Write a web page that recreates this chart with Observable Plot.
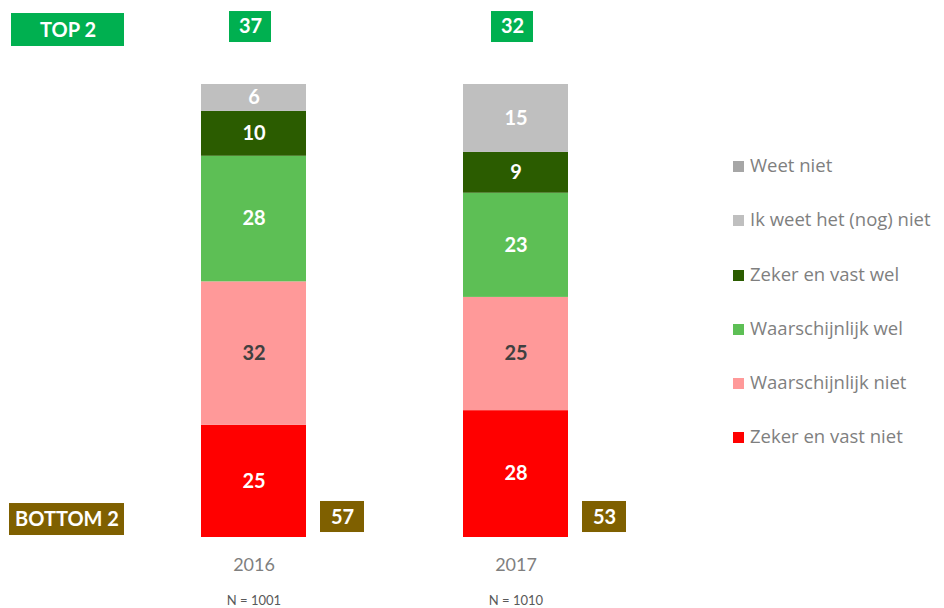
<!DOCTYPE html>
<html>
<head>
<meta charset="utf-8">
<script src="https://cdn.jsdelivr.net/npm/d3@7"></script>
<script src="https://cdn.jsdelivr.net/npm/@observablehq/plot@0.6"></script>
<style>
  body { margin: 0; background: #fff; font-family: Lato, "Open Sans", sans-serif; }
  #wrap { position: relative; width: 944px; height: 608px; }
  #legend { position: absolute; left: 733px; top: 151px; font-family: "Open Sans", Lato, sans-serif; }
  .item { height: 54.3px; display: flex; align-items: flex-start; font-size: 18.5px; color: #7f7f7f; line-height: 28px; white-space: nowrap; }
  .sw { width: 11px; height: 11px; margin-right: 6px; margin-top: 10px; flex: none; }
</style>
</head>
<body>
<div id="wrap"></div>
<script>
// Data
const years = ["2016", "2017"];
const sampleSizes = ["N = 1001", "N = 1010"];
const categories = ["Zeker en vast niet", "Waarschijnlijk niet", "Waarschijnlijk wel", "Zeker en vast wel", "Ik weet het (nog) niet", "Weet niet"];
const colors = ["#ff0000", "#ff9999", "#5dbf55", "#2b5c00", "#bfbfbf", "#a6a6a6"];
const values2016 = [25, 32, 28, 10, 6, 0];
const values2017 = [28, 25, 23, 9, 15, 0];
const top2 = [37, 32];
const bottom2 = [57, 53];
const legendOrder = ["Weet niet", "Ik weet het (nog) niet", "Zeker en vast wel", "Waarschijnlijk wel", "Waarschijnlijk niet", "Zeker en vast niet"];

const rows = [];
[values2016, values2017].forEach((vals, i) => {
  categories.forEach((c, j) => rows.push({year: years[i], cat: c, value: vals[j]}));
});
const summary = years.map((y, i) => ({year: y, top: top2[i], bottom: bottom2[i], n: sampleSizes[i]}));

const font = "Lato, 'Open Sans', sans-serif";
const stackOpts = (extra) => Plot.stackY({x: "year", y: "value", z: "cat", order: null, offset: "normalize", ...extra});

const chart = Plot.plot({
  width: 944,
  height: 608,
  marginLeft: 122,
  marginRight: 297,
  marginTop: 84,
  marginBottom: 71,
  style: {fontFamily: font, background: "white"},
  x: {domain: years, type: "band", paddingInner: 0.6, paddingOuter: 0.3, axis: null},
  y: {domain: [0, 1], axis: null},
  color: {domain: categories, range: colors},
  marks: [
    Plot.barY(rows, stackOpts({fill: "cat"})),
    Plot.text(rows, stackOpts({text: d => (d.cat === "Waarschijnlijk niet" || d.value === 0) ? null : String(d.value), fill: "white", fontWeight: "bold", fontSize: 20})),
    Plot.text(rows, stackOpts({text: d => d.cat === "Waarschijnlijk niet" ? String(d.value) : null, fill: "#404040", fontWeight: "bold", fontSize: 20})),
    // TOP 2 boxes
    Plot.barY(summary, {x: "year", y1: 1.0927, y2: 1.1611, fill: "#00b050", insetLeft: 28, insetRight: 35}),
    Plot.text(summary, {x: "year", y: 1.127, text: d => String(d.top), dx: -3.5, fill: "white", fontWeight: "bold", fontSize: 20}),
    // BOTTOM 2 boxes
    Plot.barY(summary, {x: "year", y1: 0.011, y2: 0.0795, fill: "#7f6000", insetLeft: 119, insetRight: -58}),
    Plot.text(summary, {x: "year", y: 0.045, text: d => String(d.bottom), dx: 88.5, fill: "white", fontWeight: "bold", fontSize: 20}),
    // Row labels
    Plot.barY([summary[0]], {x: "year", y1: 1.0839, y2: 1.1567, fill: "#00b050", insetLeft: -190, insetRight: 182}),
    Plot.text([summary[0]], {x: "year", y: 1.120, text: () => "TOP 2", dx: -186, fill: "white", fontWeight: "bold", fontSize: 20}),
    Plot.barY([summary[0]], {x: "year", y1: 0.0044, y2: 0.075, fill: "#7f6000", insetLeft: -192, insetRight: 182}),
    Plot.text([summary[0]], {x: "year", y: 0.040, text: () => "BOTTOM 2", dx: -187, fill: "white", fontWeight: "bold", fontSize: 20}),
    // Year and N labels
    Plot.text(summary, {x: "year", y: -0.062, text: "year", fill: "#7f7f7f", fontSize: 18}),
    Plot.text(summary, {x: "year", y: -0.139, text: "n", fill: "#595959", fontSize: 13})
  ]
});

const wrap = document.getElementById("wrap");
wrap.appendChild(chart);

const legend = document.createElement("div");
legend.id = "legend";
legendOrder.forEach(c => {
  const item = document.createElement("div");
  item.className = "item";
  const sw = document.createElement("span");
  sw.className = "sw";
  sw.style.background = colors[categories.indexOf(c)];
  const label = document.createElement("span");
  label.textContent = c;
  item.appendChild(sw);
  item.appendChild(label);
  legend.appendChild(item);
});
wrap.appendChild(legend);
</script>
</body>
</html>
